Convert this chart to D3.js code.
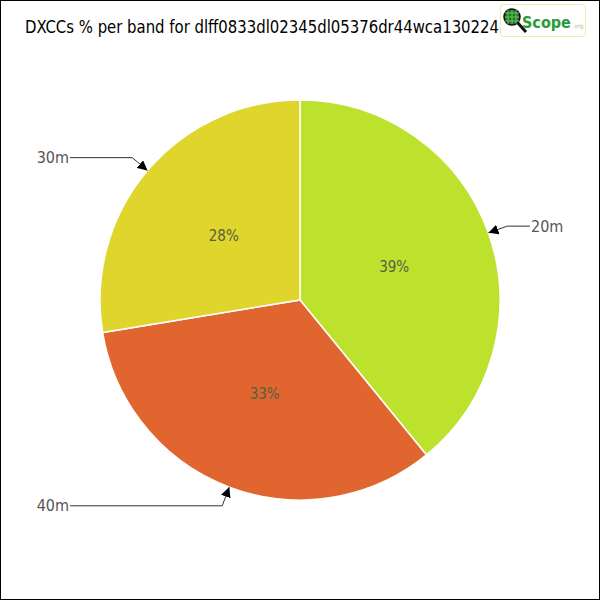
<!DOCTYPE html>
<html><head><meta charset="utf-8">
<script src="https://cdn.jsdelivr.net/npm/d3@7"></script>
<style>body{margin:0;background:#fff}</style>
</head><body>
<svg id="c" width="600" height="600"></svg>
<script>
const bands = ["20m", "40m", "30m"];
const shares = [39.1, 33.3, 27.6];
const colors = ["#bde22e", "#e0652f", "#e0d52d"];
const title = "DXCCs % per band for dlff0833dl02345dl05376dr44wca130224";

const svg = d3.select("#c");
svg.append("rect").attr("x",0.5).attr("y",0.5).attr("width",599).attr("height",599)
  .attr("fill","#fff").attr("stroke","#000");

svg.append("text").attr("x",25).attr("y",33).attr("font-family","DejaVu Sans Condensed, DejaVu Sans")
  .attr("font-size",17).attr("textLength",474).attr("lengthAdjust","spacingAndGlyphs")
  .attr("fill","#000").text(title);

// logo
const lg = svg.append("g");
lg.append("rect").attr("x",500.5).attr("y",4.5).attr("width",85).attr("height",32).attr("rx",3)
  .attr("fill","#fff").attr("stroke","#e6f0b0");
lg.append("line").attr("x1",517).attr("y1",22).attr("x2",526).attr("y2",32).attr("stroke","#111").attr("stroke-width",3);
lg.append("circle").attr("cx",512).attr("cy",17).attr("r",8).attr("fill","#1f7a2a").attr("stroke","#111").attr("stroke-width",1.5);
[ -4, 0, 4].forEach(d=>{
  lg.append("line").attr("x1",512+d).attr("y1",10).attr("x2",512+d).attr("y2",24).attr("stroke","#7fcf6a").attr("stroke-width",0.8);
  lg.append("line").attr("x1",505).attr("y1",17+d).attr("x2",519).attr("y2",17+d).attr("stroke","#7fcf6a").attr("stroke-width",0.8);
});
const lt = lg.append("text").attr("x",522).attr("y",28).attr("font-family","DejaVu Sans Condensed, DejaVu Sans");
lt.append("tspan").attr("font-weight","bold").attr("font-size",16).attr("fill","#2a9a3a").text("Scope");
lt.append("tspan").attr("dx",2).attr("font-size",6).attr("fill","#9cd07a").text(".org");

const cx=300, cy=300, R=200;
const pie = d3.pie().sort(null).value(d=>d)(shares);
const arc = d3.arc().innerRadius(0).outerRadius(R);
const g = svg.append("g").attr("transform",`translate(${cx},${cy})`);
g.selectAll("path").data(pie).join("path").attr("d",arc)
  .attr("fill",(d,i)=>colors[i]).attr("stroke","#fff").attr("stroke-width",1.5);

const inner = d3.arc().innerRadius(100).outerRadius(100);
g.selectAll("text.pct").data(pie).join("text").attr("class","pct")
  .attr("transform",d=>`translate(${inner.centroid(d)})`)
  .attr("text-anchor","middle").attr("dy","0.35em")
  .attr("font-family","DejaVu Sans Condensed, DejaVu Sans").attr("font-weight","200")
  .attr("font-size",15).attr("fill","#556045")
  .text(d=>Math.round(d.data)+"%");

svg.append("defs").append("marker").attr("id","ah").attr("viewBox","0 0 10 10")
  .attr("refX",10).attr("refY",5).attr("markerWidth",10).attr("markerHeight",10)
  .attr("markerUnits","userSpaceOnUse").attr("orient","auto")
  .append("path").attr("d","M0,0L10,5L0,10z").attr("fill","#000");

pie.forEach((d,i)=>{
  const a=(d.startAngle+d.endAngle)/2;
  const tip=[R*Math.sin(a), -R*Math.cos(a)];
  const el=[220*Math.sin(a), -220*Math.cos(a)];
  const right = Math.sin(a)>0;
  const lx = right ? 230 : -230;
  g.append("path").attr("d",`M${lx},${el[1]}L${el[0]},${el[1]}L${tip[0]},${tip[1]}`)
    .attr("fill","none").attr("stroke","#333").attr("stroke-width",1).attr("marker-end","url(#ah)");
  g.append("text").attr("x",right?lx+1:lx-1).attr("y",el[1]).attr("dy","0.35em")
    .attr("text-anchor",right?"start":"end")
    .attr("font-family","DejaVu Sans Condensed, DejaVu Sans").attr("font-weight","200")
    .attr("font-size",16).attr("fill","#555").text(bands[i]);
});
</script>
</body></html>
